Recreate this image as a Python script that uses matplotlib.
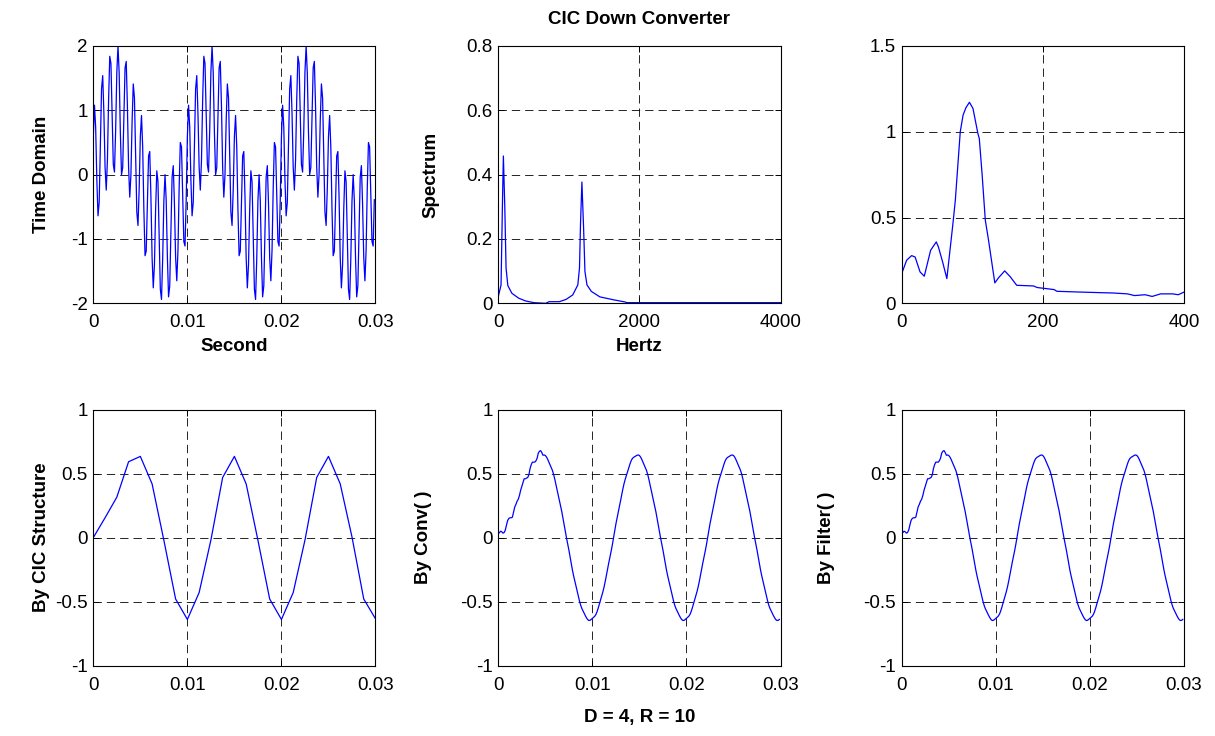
import matplotlib
matplotlib.use("Agg")
import matplotlib.pyplot as plt
import numpy as np

plt.rcParams['font.family'] = ['Liberation Sans', 'DejaVu Sans']
plt.rcParams['axes.unicode_minus'] = False
plt.rcParams['lines.scale_dashes'] = False

FS_IN = 8000     # input sample rate (Hz)
FS_OUT = 800     # rate after decimation by R = 10

# Input signal, first 0.03 s
time_domain = [
    0.59, 1.08, 0.74, -0.08, -0.64, -0.43, 0.45, 1.33, 1.54, 0.96,
    0.12, -0.24, 0.22, 1.16, 1.84, 1.73, 0.95, 0.16, 0.04, 0.69,
    1.59, 2.00, 1.58, 0.66, 0.00, 0.11, 0.89, 1.66, 1.76, 1.07,
    0.12, -0.35, 0.00, 0.83, 1.41, 1.19, 0.31, -0.58, -0.79, -0.23,
    0.59, 0.92, 0.43, -0.54, -1.26, -1.19, -0.45, 0.29, 0.36, -0.34,
    -1.29, -1.76, -1.40, -0.54, 0.06, -0.11, -0.95, -1.78, -1.94, -1.31,
    -0.41, 0.00, -0.40, -1.28, -1.90, -1.73, -0.89, -0.04, 0.14, -0.45,
    -1.29, -1.65, -1.18, -0.21, 0.50, 0.43, -0.31, -1.04, -1.11, -0.39,
    0.59, 1.08, 0.74, -0.08, -0.64, -0.43, 0.45, 1.33, 1.54, 0.96,
    0.12, -0.24, 0.22, 1.16, 1.84, 1.73, 0.95, 0.16, 0.04, 0.69,
    1.59, 2.00, 1.58, 0.66, 0.00, 0.11, 0.89, 1.66, 1.76, 1.07,
    0.12, -0.35, 0.00, 0.83, 1.41, 1.19, 0.31, -0.58, -0.79, -0.23,
    0.59, 0.92, 0.43, -0.54, -1.26, -1.19, -0.45, 0.29, 0.36, -0.34,
    -1.29, -1.76, -1.40, -0.54, 0.06, -0.11, -0.95, -1.78, -1.94, -1.31,
    -0.41, 0.00, -0.40, -1.28, -1.90, -1.73, -0.89, -0.04, 0.14, -0.45,
    -1.29, -1.65, -1.18, -0.21, 0.50, 0.43, -0.31, -1.04, -1.11, -0.39,
    0.59, 1.08, 0.74, -0.08, -0.64, -0.43, 0.45, 1.33, 1.54, 0.96,
    0.12, -0.24, 0.22, 1.16, 1.84, 1.73, 0.95, 0.16, 0.04, 0.69,
    1.59, 2.00, 1.58, 0.66, 0.00, 0.11, 0.89, 1.66, 1.76, 1.07,
    0.12, -0.35, 0.00, 0.83, 1.41, 1.19, 0.31, -0.58, -0.79, -0.23,
    0.59, 0.92, 0.43, -0.54, -1.26, -1.19, -0.45, 0.29, 0.36, -0.34,
    -1.29, -1.76, -1.40, -0.54, 0.06, -0.11, -0.95, -1.78, -1.94, -1.31,
    -0.41, 0.00, -0.40, -1.28, -1.90, -1.73, -0.89, -0.04, 0.14, -0.45,
    -1.29, -1.65, -1.18, -0.21, 0.50, 0.43, -0.31, -1.04, -1.11, -0.39,
]

# Magnitude spectrum of the input
spec_freq = [0, 39, 58, 72, 92, 110, 135, 193, 288, 384, 504, 672, 720, 864,
             960, 1055, 1127, 1151, 1165, 1185, 1209, 1228, 1257, 1319, 1439,
             1631, 1798, 1820, 4000]
spec_mag = [0.021, 0.057, 0.30, 0.458, 0.30, 0.11, 0.055, 0.031, 0.016, 0.0075,
            0.002, 0.0, 0.005, 0.005, 0.012, 0.026, 0.057, 0.11, 0.245, 0.377,
            0.234, 0.099, 0.057, 0.037, 0.020, 0.011, 0.004, 0.002, 0.002]

# Magnitude spectrum of the decimated output
dec_freq = [0, 7, 14, 19, 26, 32, 41, 49, 52, 58,
            64, 69, 72.5, 76, 79.5, 83, 87, 91, 96, 101,
            108, 110, 114, 118.5, 123, 128, 132, 137.5, 146, 154,
            163, 175, 187, 192, 216, 220, 249, 282, 300, 320,
            330, 345, 355, 367, 384, 392, 400]
dec_mag = [0.173, 0.251, 0.278, 0.27, 0.183, 0.158, 0.309, 0.358, 0.329, 0.241,
           0.144, 0.33, 0.46, 0.60, 0.80, 1.0, 1.097, 1.14, 1.172, 1.136,
           0.99, 0.96, 0.75, 0.485, 0.37, 0.23, 0.119, 0.150, 0.189, 0.154,
           0.105, 0.103, 0.101, 0.092, 0.080, 0.070, 0.066, 0.062, 0.06, 0.055,
           0.045, 0.05, 0.04, 0.055, 0.055, 0.05, 0.065]

# Output of the integrator/comb structure (800 Hz)
cic_output = [0.0, 0.155, 0.316, 0.593, 0.635, 0.42, -0.02, -0.48, -0.64, -0.43,
              -0.02, 0.47, 0.635, 0.42, -0.02, -0.48, -0.64, -0.43, -0.02, 0.47,
              0.635, 0.42, 0.005, -0.48, -0.635]

# Output of the equivalent FIR filter (8000 Hz), same for conv() and filter()
fir_output = [
    0.03, 0.04, 0.05, 0.045, 0.035, 0.04, 0.06, 0.10, 0.135, 0.15,
    0.155, 0.155, 0.16, 0.20, 0.24, 0.26, 0.285, 0.30, 0.33, 0.37,
    0.40, 0.43, 0.46, 0.46, 0.465, 0.47, 0.49, 0.54, 0.57, 0.59,
    0.59, 0.59, 0.60, 0.62, 0.66, 0.675, 0.68, 0.665,
    0.644, 0.646, 0.642, 0.630, 0.612, 0.591, 0.571, 0.550, 0.526, 0.496,
    0.458, 0.416, 0.374, 0.334, 0.294, 0.252, 0.203, 0.151, 0.097, 0.046,
    -0.002, -0.048, -0.096, -0.148, -0.201, -0.252, -0.297, -0.337, -0.375, -0.414,
    -0.455, -0.494, -0.527, -0.553, -0.573, -0.591, -0.610, -0.627, -0.641, -0.648,
    -0.647, -0.640, -0.632, -0.624, -0.615, -0.601, -0.579, -0.550, -0.518, -0.486,
    -0.455, -0.422, -0.384, -0.340, -0.291, -0.242, -0.195, -0.151, -0.105, -0.056,
    -0.002, 0.054, 0.106, 0.154, 0.198, 0.242, 0.289, 0.337, 0.383, 0.424,
    0.458, 0.488, 0.517, 0.547, 0.576, 0.601, 0.618, 0.627, 0.633, 0.638,
    0.644, 0.646, 0.642, 0.630, 0.612, 0.591, 0.571, 0.550, 0.526, 0.496,
    0.458, 0.416, 0.374, 0.334, 0.294, 0.252, 0.203, 0.151, 0.097, 0.046,
    -0.002, -0.048, -0.096, -0.148, -0.201, -0.252, -0.297, -0.337, -0.375, -0.414,
    -0.455, -0.494, -0.527, -0.553, -0.573, -0.591, -0.610, -0.627, -0.641, -0.648,
    -0.647, -0.640, -0.632, -0.624, -0.615, -0.601, -0.579, -0.550, -0.518, -0.486,
    -0.455, -0.422, -0.384, -0.340, -0.291, -0.242, -0.195, -0.151, -0.105, -0.056,
    -0.002, 0.054, 0.106, 0.154, 0.198, 0.242, 0.289, 0.337, 0.383, 0.424,
    0.458, 0.488, 0.517, 0.547, 0.576, 0.601, 0.618, 0.627, 0.633, 0.638,
    0.644, 0.646, 0.642, 0.630, 0.612, 0.591, 0.571, 0.550, 0.526, 0.496,
    0.458, 0.416, 0.374, 0.334, 0.294, 0.252, 0.203, 0.151, 0.097, 0.046,
    -0.002, -0.048, -0.096, -0.148, -0.201, -0.252, -0.297, -0.337, -0.375, -0.414,
    -0.455, -0.494, -0.527, -0.553, -0.573, -0.591, -0.610, -0.627, -0.641, -0.648,
    -0.647, -0.640,
]

time_ticks = [0, 0.01, 0.02, 0.03]
time_labels = ['0', '0.01', '0.02', '0.03']
out_ticks = [-1, -0.5, 0, 0.5, 1]
out_labels = ['-1', '-0.5', '0', '0.5', '1']

FONT = 13.5
LINE_COLOR = (0, 0, 1)


def setup(ax, xlim, xticks, xlabels, ylim, yticks, ylabels):
    ax.set_xlim(*xlim)
    ax.set_ylim(*ylim)
    ax.set_xticks(xticks)
    ax.set_xticklabels(xlabels)
    ax.set_yticks(yticks)
    ax.set_yticklabels(ylabels)
    ax.grid(True, color='k', linestyle=(0, (6, 3.6)), linewidth=0.6)
    ax.set_axisbelow(True)
    ax.tick_params(direction='in', length=4, width=0.7, top=True, right=True,
                   labelsize=FONT)
    ax.tick_params(axis='x', pad=8)
    ax.tick_params(axis='y', pad=4)
    for s in ax.spines.values():
        s.set_linewidth(0.8)
        s.set_color('k')


W, H = 1215, 736
fig = plt.figure(figsize=(W / 100, H / 100), dpi=100)

col_left = [93.3, 498.3, 901.7]
col_w = 282.2
row_top = [(46.0, 303.3), (409.7, 665.5)]


def make_axes(col, row):
    top, bot = row_top[row]
    return fig.add_axes([col_left[col] / W, 1 - bot / H, col_w / W, (bot - top) / H])


t_in = np.arange(len(time_domain)) / FS_IN
t_fir = np.arange(len(fir_output)) / FS_IN
t_cic = np.arange(len(cic_output)) / FS_OUT

bold = dict(fontsize=FONT, fontweight='bold')

# Input signal
ax = make_axes(0, 0)
ax.plot(t_in, time_domain, color=LINE_COLOR, lw=0.9)
setup(ax, (0, 0.03), time_ticks, time_labels, (-2, 2),
      [-2, -1, 0, 1, 2], ['-2', '-1', '0', '1', '2'])
ax.set_xlabel('Second', **bold)
ax.set_ylabel('Time Domain', **bold)
ax.yaxis.set_label_coords(-0.155, 0.5)
ax.xaxis.set_label_coords(0.5, -0.133)

# Input spectrum
ax = make_axes(1, 0)
ax.plot(spec_freq, spec_mag, color=LINE_COLOR, lw=0.9)
setup(ax, (0, 4000), [0, 2000, 4000], ['0', '2000', '4000'], (0, 0.8),
      [0, 0.2, 0.4, 0.6, 0.8], ['0', '0.2', '0.4', '0.6', '0.8'])
ax.set_xlabel('Hertz', **bold)
ax.set_ylabel('Spectrum', **bold)
ax.set_title('CIC Down Converter', pad=16, **bold)
ax.yaxis.set_label_coords(-0.21, 0.5)
ax.xaxis.set_label_coords(0.5, -0.133)

# Decimated spectrum
ax = make_axes(2, 0)
ax.plot(dec_freq, dec_mag, color=LINE_COLOR, lw=0.9)
setup(ax, (0, 400), [0, 200, 400], ['0', '200', '400'], (0, 1.5),
      [0, 0.5, 1, 1.5], ['0', '0.5', '1', '1.5'])

# Integrator/comb output
ax = make_axes(0, 1)
ax.plot(t_cic, cic_output, color=LINE_COLOR, lw=0.9)
setup(ax, (0, 0.03), time_ticks, time_labels, (-1, 1), out_ticks, out_labels)
ax.set_ylabel('By CIC Structure', **bold)
ax.yaxis.set_label_coords(-0.155, 0.5)

# conv() output
ax = make_axes(1, 1)
ax.plot(t_fir, fir_output, color=LINE_COLOR, lw=0.9)
setup(ax, (0, 0.03), time_ticks, time_labels, (-1, 1), out_ticks, out_labels)
ax.set_ylabel('By Conv( )', **bold)
ax.set_xlabel('D = 4, R = 10', **bold)
ax.yaxis.set_label_coords(-0.235, 0.5)
ax.xaxis.set_label_coords(0.5, -0.17)

# filter() output
ax = make_axes(2, 1)
ax.plot(t_fir, fir_output, color=LINE_COLOR, lw=0.9)
setup(ax, (0, 0.03), time_ticks, time_labels, (-1, 1), out_ticks, out_labels)
ax.set_ylabel('By Filter( )', **bold)
ax.yaxis.set_label_coords(-0.235, 0.5)

fig.savefig('out.png', dpi=100)
